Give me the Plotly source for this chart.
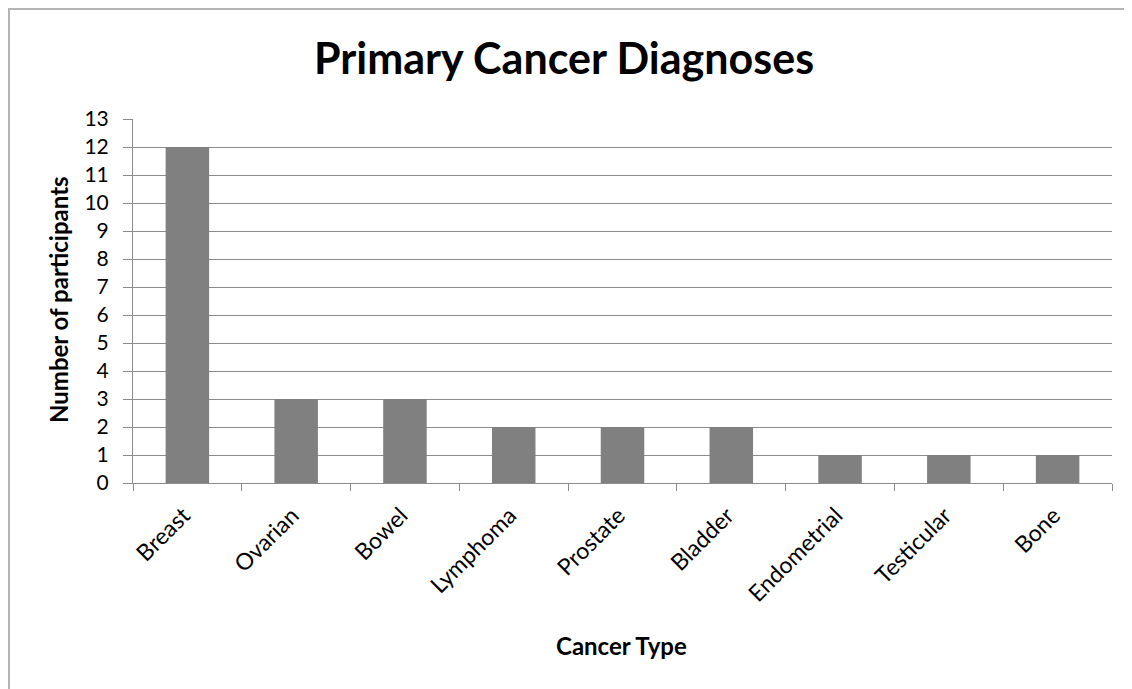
import plotly.graph_objects as go

categories = ["Breast", "Ovarian", "Bowel", "Lymphoma", "Prostate", "Bladder",
              "Endometrial", "Testicular", "Bone"]
participants = [12, 3, 3, 2, 2, 2, 1, 1, 1]
y_ticks = list(range(0, 14))

OFF = 8  # page body margin
W, H = 1134, 691
ML = 133 - OFF
MT = 119 - OFF
MR = W - (1112 - OFF)
MB = H - (483 - OFF)
PW, PH = W - ML - MR, H - MT - MB

def px_x(px):
    return (px - OFF - ML) / PW

def px_y(py):
    return 1 + (MT - (py - OFF)) / PH

FONT = "Lato"
GRID = "#8c8c8c"

fig = go.Figure(go.Bar(x=categories, y=participants,
                       marker=dict(color="#808080", line=dict(width=0))))

fig.update_layout(
    width=W, height=H,
    margin=dict(l=ML, r=MR, t=MT, b=MB),
    paper_bgcolor="white", plot_bgcolor="white",
    bargap=0.6,
    showlegend=False,
    font=dict(family=FONT, color="black"),
    title=dict(text="<b>Primary Cancer Diagnoses</b>", x=px_x(564), xanchor="center",
               xref="paper",
               y=1 - 51 / H, yanchor="middle", font=dict(size=43, family=FONT, color="black")),
    xaxis=dict(
        type="category", tickangle=-45, tickfont=dict(size=23, family=FONT, color="black"),
        showgrid=False, showline=True, linecolor=GRID, linewidth=1,
        ticks="outside", tickson="boundaries", ticklen=7, tickcolor=GRID,
        ticklabelstandoff=9, ticklabelshift=-4,
    ),
    yaxis=dict(
        range=[0, 13], tickvals=y_ticks, tickfont=dict(size=21, family=FONT, color="black"),
        showgrid=True, gridcolor=GRID, gridwidth=1,
        showline=True, linecolor=GRID, linewidth=1,
        ticks="outside", ticklen=9, tickcolor=GRID, zeroline=False,
        ticklabelstandoff=10,
    ),
    annotations=[
        dict(text="<b>Cancer Type</b>", xref="paper", yref="paper",
             x=px_x(621), y=px_y(645), xanchor="center", yanchor="middle",
             showarrow=False, font=dict(size=24, family=FONT, color="black")),
        dict(text="<b>Number of participants</b>", xref="paper", yref="paper",
             x=px_x(58), y=px_y(300), xanchor="center", yanchor="middle", textangle=-90,
             showarrow=False, font=dict(size=24, family=FONT, color="black")),
    ],
    shapes=[
        dict(type="rect", xref="paper", yref="paper", x0=px_x(9), x1=px_x(3000),
             y0=px_y(3000), y1=px_y(9), line=dict(color="#b4b4b4", width=2),
             fillcolor="rgba(0,0,0,0)", layer="below"),
    ],
)

fig.write_html("out.html")
